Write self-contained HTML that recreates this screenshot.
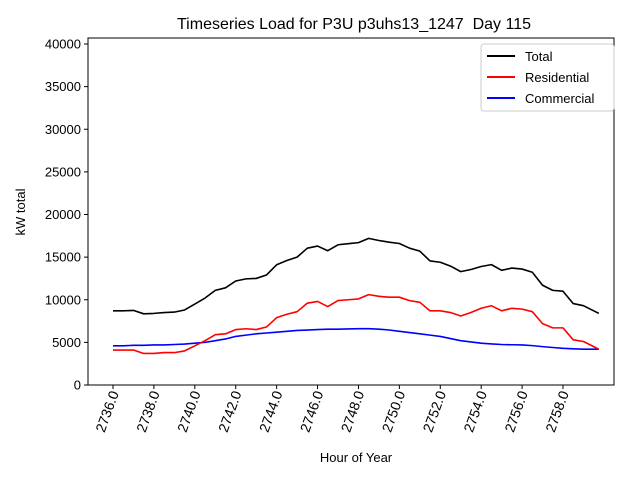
<!DOCTYPE html>
<html><head><meta charset="utf-8"><style>
body{margin:0;background:#fff;}
svg{display:block;font-family:"Liberation Sans","DejaVu Sans",sans-serif;}
</style></head><body>
<svg id="chart" width="640" height="480">
<text x="354" y="29" font-size="16" text-anchor="middle">Timeseries Load for P3U p3uhs13_1247&#160; Day 115</text>
<text x="356" y="462" font-size="13" text-anchor="middle">Hour of Year</text>
<text transform="translate(25,212) rotate(-90)" font-size="13" text-anchor="middle">kW total</text>
<g id="ticks"></g>
<g id="series"></g>
<rect x="88" y="38" width="526" height="347" fill="none" stroke="#000" stroke-width="1"/>
<g>
<rect x="481" y="44" width="133" height="67" rx="3" fill="#fff" stroke="#ccc"/>
<line x1="487" y1="56" x2="515" y2="56" stroke="#000" stroke-width="2"/>
<text x="525" y="61" font-size="13">Total</text>
<line x1="487" y1="77" x2="515" y2="77" stroke="#f00" stroke-width="2"/>
<text x="525" y="82" font-size="13">Residential</text>
<line x1="487" y1="98" x2="515" y2="98" stroke="#00f" stroke-width="2"/>
<text x="525" y="103" font-size="13">Commercial</text>
</g>
</svg>
<script>
const hours=[2736,2736.5,2737,2737.5,2738,2738.5,2739,2739.5,2740,2740.5,2741,2741.5,2742,2742.5,2743,2743.5,2744,2744.5,2745,2745.5,2746,2746.5,2747,2747.5,2748,2748.5,2749,2749.5,2750,2750.5,2751,2751.5,2752,2752.5,2753,2753.5,2754,2754.5,2755,2755.5,2756,2756.5,2757,2757.5,2758,2758.5,2759,2759.5,2759.75];
const residential=[4100,4100,4100,3700,3700,3800,3800,4000,4600,5200,5900,6000,6500,6600,6500,6800,7900,8300,8600,9600,9800,9200,9900,10000,10100,10600,10400,10300,10300,9900,9700,8700,8700,8500,8100,8500,9000,9300,8700,9000,8900,8600,7200,6700,6700,5300,5100,4500,4200];
const commercial=[4600,4600,4650,4650,4700,4700,4750,4800,4900,5000,5200,5400,5700,5850,6000,6100,6200,6300,6400,6450,6500,6550,6550,6580,6600,6600,6550,6450,6300,6150,6000,5850,5700,5450,5200,5050,4900,4820,4750,4720,4700,4620,4500,4400,4300,4250,4200,4200,4200];
const total=residential.map((r,i)=>r+commercial[i]);
const yTicks=[0,5000,10000,15000,20000,25000,30000,35000,40000];
const xTicks=[2736,2738,2740,2742,2744,2746,2748,2750,2752,2754,2756,2758];
const NS="http://www.w3.org/2000/svg";
const X=h=>113+(h-2736)*(450/22);
const Y=v=>385-v*(341/40000);
const tg=document.getElementById('ticks'), sg=document.getElementById('series');
function mk(tag,attrs,parent){const e=document.createElementNS(NS,tag);for(const k in attrs)e.setAttribute(k,attrs[k]);parent.appendChild(e);return e;}
yTicks.forEach(v=>{
  const l=mk('line',{x1:84,x2:88,y1:Y(v),y2:Y(v),stroke:'#000'},tg);
  
  
  const t=mk('text',{x:81,y:Y(v)+4.5,'font-size':13,'text-anchor':'end'},tg);
  t.textContent=v;
  
  
});
xTicks.forEach(h=>{
  const l=mk('line',{x1:X(h),x2:X(h),y1:385,y2:389,stroke:'#000'},tg);
  
  
  const ax=X(h)+6, ay=393;
  const t=mk('text',{x:ax,y:ay,'font-size':14,'text-anchor':'end',transform:`rotate(-70 ${ax} ${ay})`},tg);
  t.textContent=h.toFixed(1);
  
  
});
[[commercial,'#00f','commercial-line'],[residential,'#f00','residential-line'],[total,'#000','total-line']].forEach(([d,c,n])=>{
  const p=mk('polyline',{points:d.map((v,i)=>X(hours[i])+','+Y(v)).join(' '),fill:'none',stroke:c,'stroke-width':1.6,'stroke-linejoin':'round'},sg);
  
  
});
</script>
</body></html>
